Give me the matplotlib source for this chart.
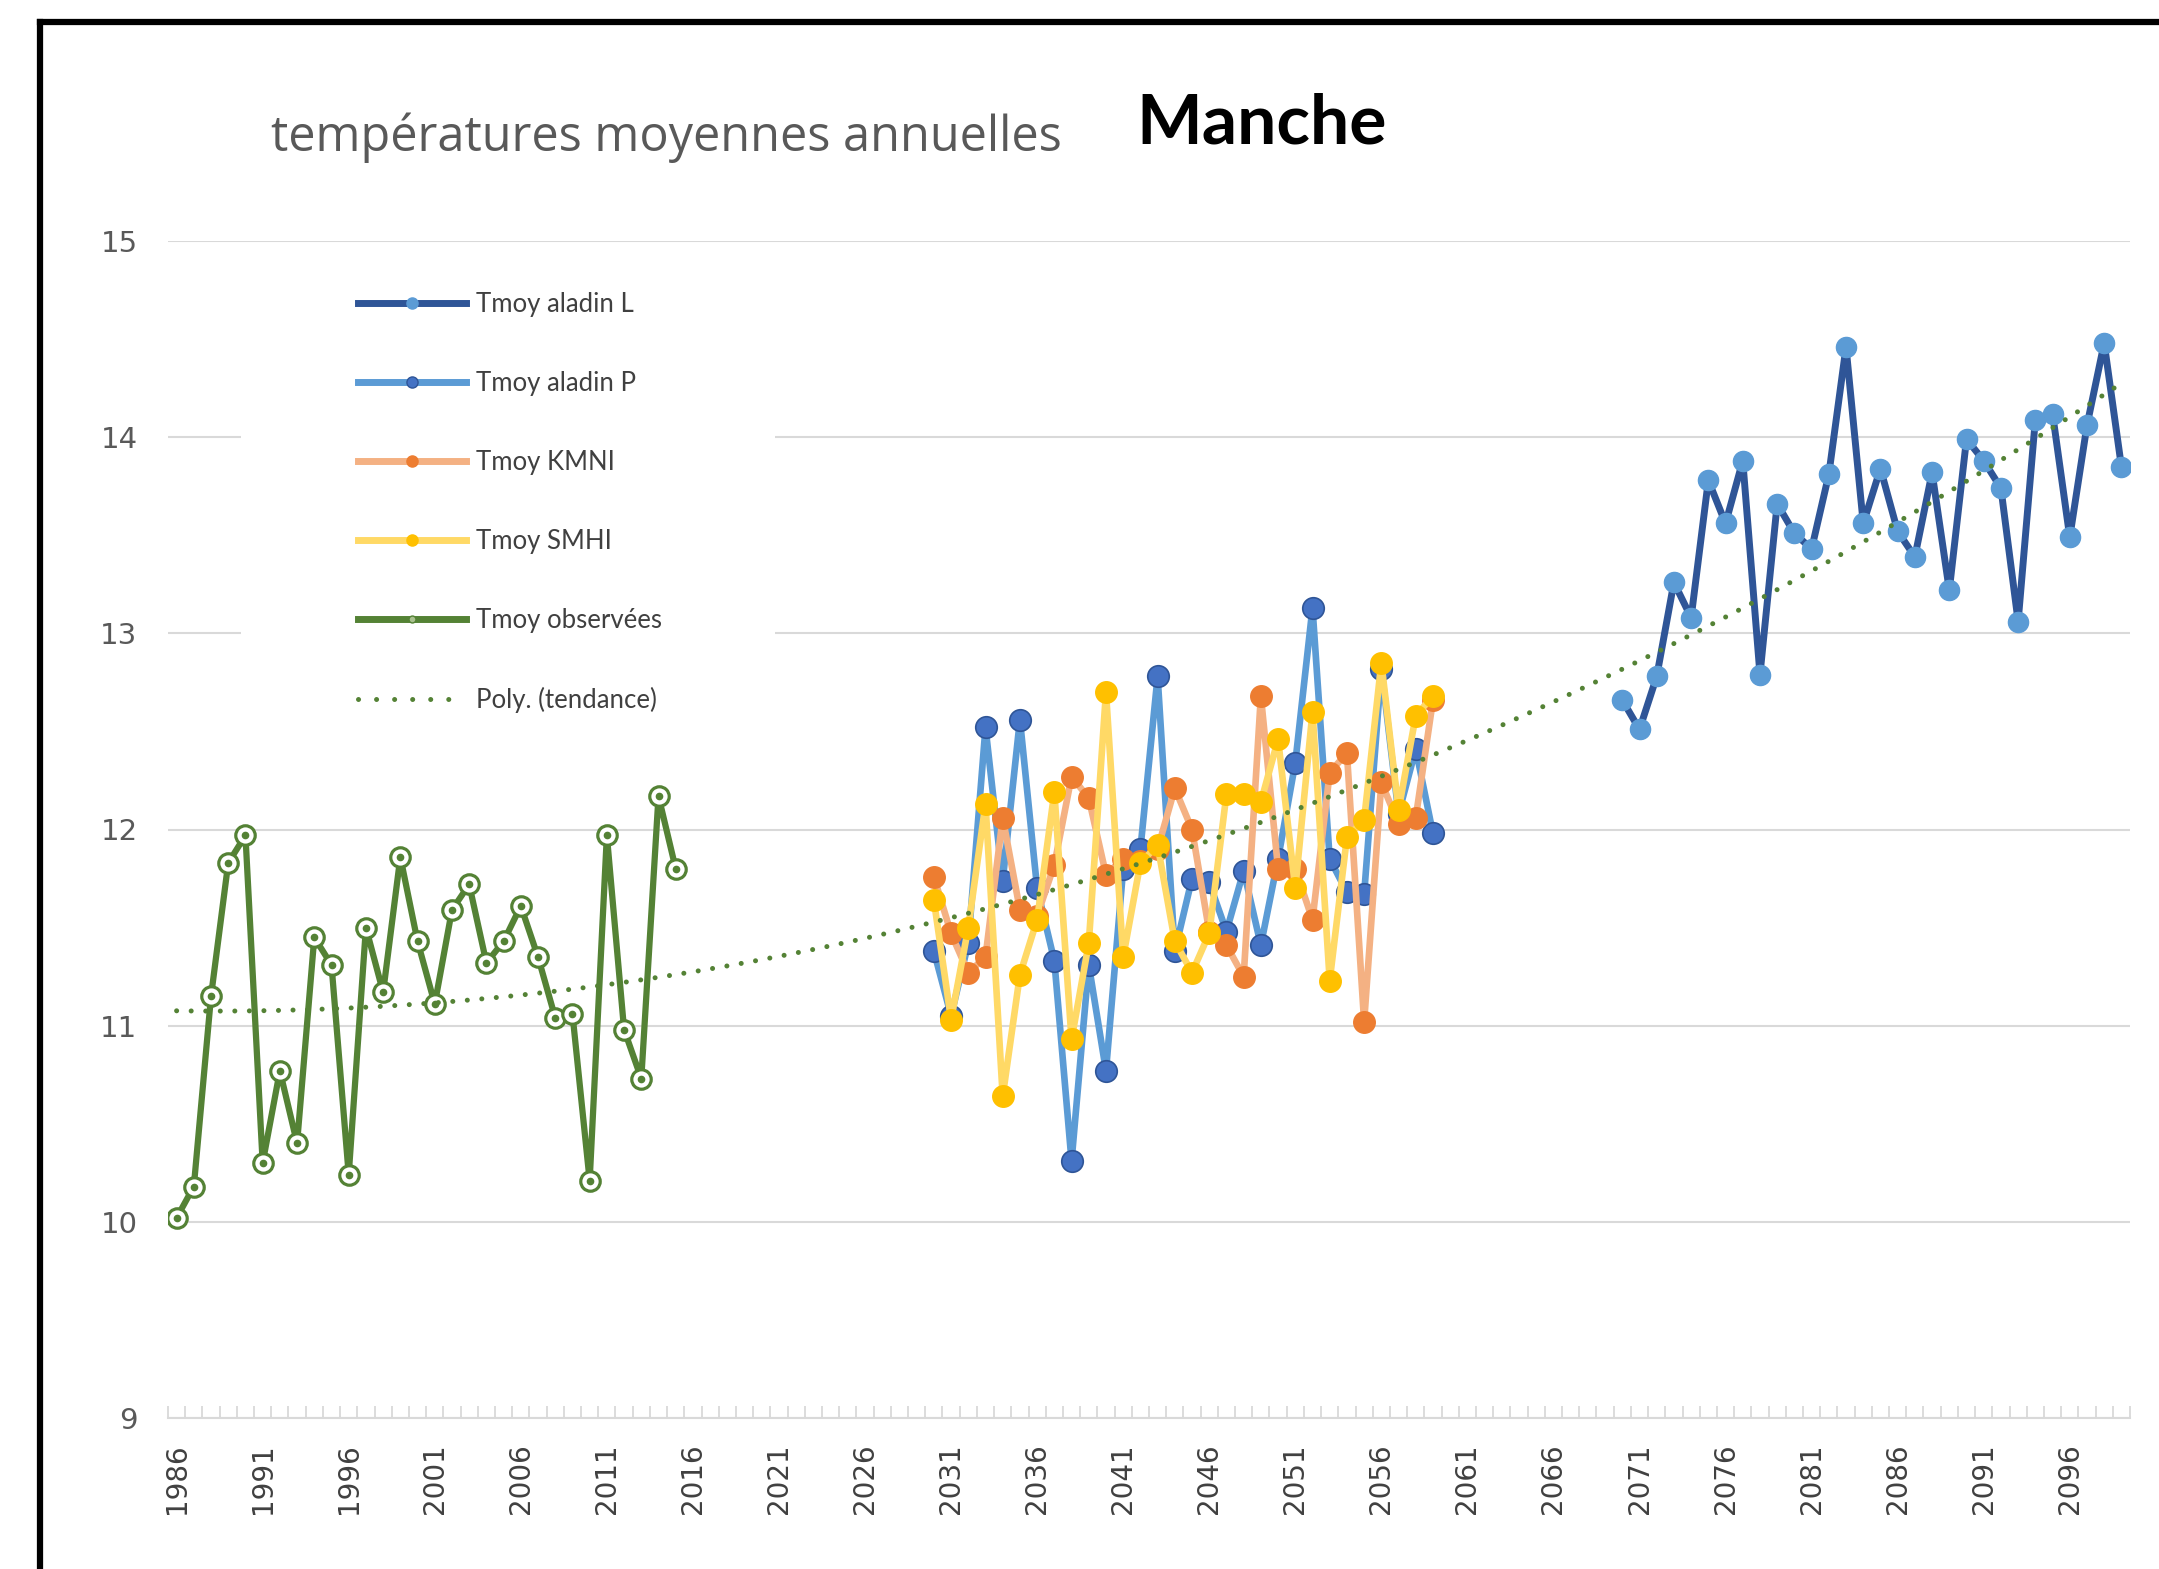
import numpy as np
import matplotlib
matplotlib.use("Agg")
import matplotlib.pyplot as plt
from matplotlib.lines import Line2D
from matplotlib.patches import Rectangle

# observed annual means 1986-2015
years_obs = np.arange(1986, 2016)
tmoy_obs = [10.02, 10.18, 11.15, 11.83, 11.97, 10.30, 10.77, 10.40, 11.45, 11.31,
            10.24, 11.50, 11.17, 11.86, 11.43, 11.11, 11.59, 11.72, 11.32, 11.43,
            11.61, 11.35, 11.04, 11.06, 10.21, 11.97, 10.98, 10.73, 12.17, 11.80]

# model runs 2030-2059
years_mid = np.arange(2030, 2060)
tmoy_aladin_p = [11.38, 11.05, 11.42, 12.52, 11.74, 12.56, 11.70, 11.33, 10.31, 11.31,
                 10.77, 11.80, 11.90, 12.78, 11.38, 11.75, 11.73, 11.48, 11.79, 11.41,
                 11.85, 12.34, 13.13, 11.85, 11.68, 11.67, 12.82, 12.08, 12.41, 11.98]
tmoy_kmni = [11.76, 11.47, 11.27, 11.35, 12.06, 11.59, 11.56, 11.82, 12.27, 12.16,
             11.77, 11.85, 11.84, 11.90, 12.21, 12.00, 11.48, 11.41, 11.25, 12.68,
             11.80, 11.80, 11.54, 12.29, 12.39, 11.02, 12.24, 12.03, 12.06, 12.66]
tmoy_smhi = [11.64, 11.03, 11.50, 12.13, 10.64, 11.26, 11.54, 12.19, 10.93, 11.42,
             12.70, 11.35, 11.83, 11.92, 11.43, 11.27, 11.47, 12.18, 12.18, 12.14,
             12.46, 11.70, 12.60, 11.23, 11.96, 12.05, 12.85, 12.10, 12.58, 12.68]

# model run 2070-2099
years_late = np.arange(2070, 2100)
tmoy_aladin_l = [12.66, 12.51, 12.78, 13.26, 13.08, 13.78, 13.56, 13.88, 12.79, 13.66,
                 13.51, 13.43, 13.81, 14.46, 13.56, 13.84, 13.52, 13.39, 13.82, 13.22,
                 13.99, 13.88, 13.74, 13.06, 14.09, 14.12, 13.49, 14.06, 14.48, 13.85]

year_ticks = list(range(1986, 2100, 5))
temp_ticks = [9, 10, 11, 12, 13, 14, 15]

GREEN = "#548235"
GRID = "#d9d9d9"

W, H = 2159, 1569
fig = plt.figure(figsize=(W / 100, H / 100), dpi=100)
ax = fig.add_axes([168 / W, 1 - 1418 / H, (2130 - 168) / W, (1418 - 241) / H])

# series
ax.plot(years_late, tmoy_aladin_l, color="#2F5597", lw=5, marker="o", ms=14.5,
        mfc="#5B9BD5", mec="#5B9BD5", zorder=2)
ax.plot(years_mid, tmoy_aladin_p, color="#5B9BD5", lw=4.8, marker="o", ms=15.5,
        mfc="#4472C4", mec="#2F5597", mew=1.2, zorder=2)
ax.plot(years_mid, tmoy_kmni, color="#F4B183", lw=4.8, marker="o", ms=15.5,
        mfc="#ED7D31", mec="#ED7D31", zorder=2)
ax.plot(years_mid, tmoy_smhi, color="#FFD966", lw=4.8, marker="o", ms=15.5,
        mfc="#FFC000", mec="#FFC000", zorder=2)
ax.plot(years_obs, tmoy_obs, color=GREEN, lw=4.5, marker="o", ms=14,
        mfc="white", mec=GREEN, mew=2.3, zorder=2)
ax.plot(years_obs, tmoy_obs, ls="none", marker="o", ms=4.5, color=GREEN, zorder=2)

# polynomial trend (order 2): observed + aladin runs
trend_src_x = np.concatenate([years_obs, years_mid, years_late])
trend_src_y = np.concatenate([tmoy_obs, tmoy_aladin_p, tmoy_aladin_l])
coef = np.polyfit(trend_src_x - 1986, trend_src_y, 2)
trend_x = np.arange(1986, 2100)
ax.plot(trend_x, np.polyval(coef, trend_x - 1986), color=GREEN, lw=3.6,
        ls=(0, (0.01, 2.9)), dash_capstyle="round", zorder=3)

# axes styling
ax.set_xlim(1985.5, 2099.5)
ax.set_ylim(9, 15)
for s in ["left", "right", "top"]:
    ax.spines[s].set_visible(False)
ax.spines["bottom"].set_color(GRID)
ax.spines["bottom"].set_linewidth(1.5)
ax.set_axisbelow(True)
ax.grid(axis="y", color=GRID, lw=1.5)

ax.set_yticks(temp_ticks)
ax.set_yticklabels([str(t) for t in temp_ticks], fontsize=21, color="#595959",
                   family="DejaVu Sans")
ax.tick_params(axis="y", length=0, pad=22)

ax.set_xticks(year_ticks)
ax.set_xticklabels([str(y) for y in year_ticks], rotation=90, fontsize=20,
                   color="#404040", family="DejaVu Sans")
ax.set_xticks(np.arange(1985.5, 2100, 1), minor=True)
ax.tick_params(axis="x", which="major", length=0, pad=18)
ax.tick_params(axis="x", which="minor", direction="in", length=9, color=GRID, width=1.3)

# white patch behind legend (hides grid lines like the original)
ax.add_patch(Rectangle((241 / W, 1 - 805 / H), 534 / W, 543 / H, transform=fig.transFigure,
                       facecolor="white", edgecolor="none", zorder=1))

handles = [
    Line2D([], [], color="#2F5597", lw=5, marker="o", ms=8, mfc="#5B9BD5", mec="#5B9BD5"),
    Line2D([], [], color="#5B9BD5", lw=5, marker="o", ms=8, mfc="#4472C4", mec="#2F5597"),
    Line2D([], [], color="#F4B183", lw=5, marker="o", ms=8, mfc="#ED7D31", mec="#ED7D31"),
    Line2D([], [], color="#FFD966", lw=5, marker="o", ms=8, mfc="#FFC000", mec="#FFC000"),
    Line2D([], [], color=GREEN, lw=5, marker="o", ms=5, mfc="#A9C08F", mec=GREEN),
    Line2D([], [], color=GREEN, lw=3.6, ls=(0, (0.01, 3.6)), dash_capstyle="round"),
]
labels = ["Tmoy aladin L", "Tmoy aladin P", "Tmoy KMNI", "Tmoy SMHI",
          "Tmoy observées", "Poly. (tendance)"]
fig.legend(handles, labels, loc="upper left", bbox_to_anchor=(358 / W, 1 - 292 / H),
           frameon=False, borderpad=0, borderaxespad=0, handlelength=4.2,
           handletextpad=0.4, labelspacing=2.1,
           prop={"family": "Lato", "size": 18.5}, labelcolor="#404040")

# titles
fig.text(271 / W, 1 - 138 / H, "températures moyennes annuelles", fontsize=35,
         color="#595959", family="Open Sans", va="center", ha="left")
fig.text(1136 / W, 1 - 124 / H, "Manche", fontsize=50, fontweight="bold",
         color="black", family="Lato", va="center", ha="left")

# black frame (left and top edges)
fig.add_artist(Line2D([40 / W, 40 / W], [0, 1 - 22 / H], color="black", lw=4.5,
                      solid_capstyle="projecting", transform=fig.transFigure))
fig.add_artist(Line2D([40 / W, 1], [1 - 22 / H, 1 - 22 / H], color="black", lw=4.5,
                      solid_capstyle="projecting", transform=fig.transFigure))

fig.savefig("out.png", dpi=100, facecolor="white")
